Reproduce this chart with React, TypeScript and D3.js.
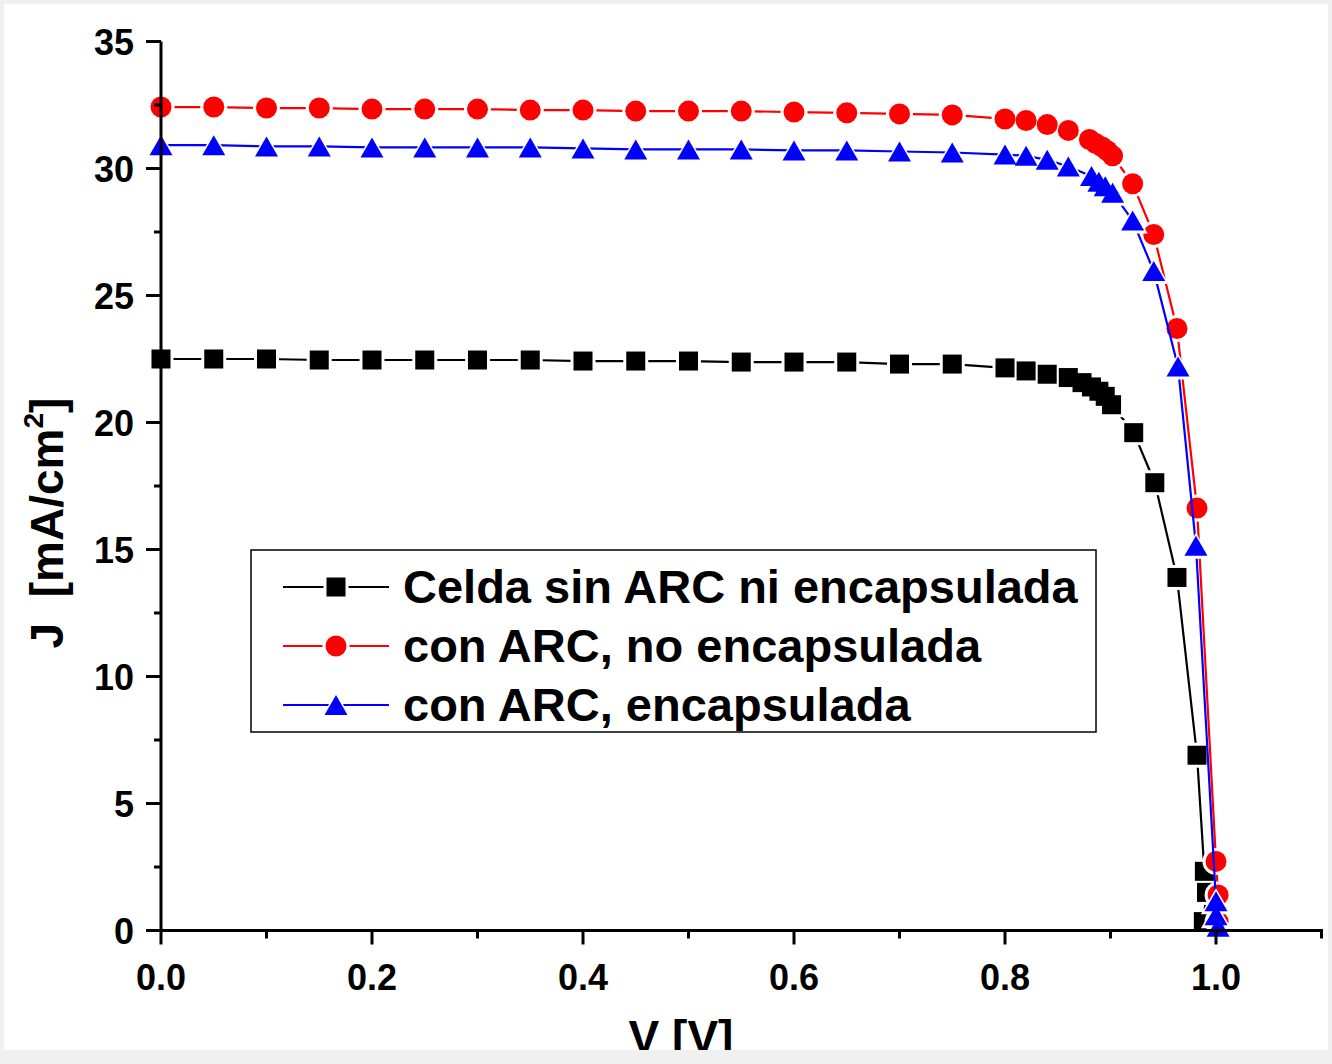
import React from "react";
import * as d3 from "d3";

const vBlack = [0, 0.05, 0.1, 0.15, 0.2, 0.25, 0.3, 0.35, 0.4, 0.45, 0.5, 0.55, 0.6, 0.65, 0.7, 0.75, 0.8, 0.82, 0.84, 0.86, 0.873, 0.882, 0.889, 0.895, 0.901, 0.922, 0.942, 0.963, 0.982, 0.989, 0.991, 0.988];
const jBlack = [22.5, 22.5, 22.5, 22.46, 22.46, 22.46, 22.46, 22.46, 22.42, 22.42, 22.42, 22.38, 22.38, 22.38, 22.3, 22.3, 22.15, 22.03, 21.9, 21.77, 21.57, 21.4, 21.23, 21.03, 20.7, 19.6, 17.63, 13.9, 6.9, 2.33, 1.5, 0.35];

const vRed = [0, 0.05, 0.1, 0.15, 0.2, 0.25, 0.3, 0.35, 0.4, 0.45, 0.5, 0.55, 0.6, 0.65, 0.7, 0.75, 0.8, 0.82, 0.84, 0.86, 0.88, 0.886, 0.892, 0.897, 0.902, 0.921, 0.941, 0.963, 0.982, 1.0, 1.002, 1.002];
const jRed = [32.42, 32.42, 32.38, 32.38, 32.34, 32.34, 32.34, 32.3, 32.3, 32.26, 32.26, 32.26, 32.22, 32.19, 32.15, 32.11, 31.95, 31.89, 31.73, 31.5, 31.14, 30.98, 30.85, 30.7, 30.5, 29.4, 27.4, 23.7, 16.63, 2.72, 1.4, 0.35];

const vBlue = [0, 0.05, 0.1, 0.15, 0.2, 0.25, 0.3, 0.35, 0.4, 0.45, 0.5, 0.55, 0.6, 0.65, 0.7, 0.75, 0.8, 0.82, 0.84, 0.86, 0.882, 0.889, 0.895, 0.902, 0.921, 0.941, 0.964, 0.981, 1.0, 1.0, 1.002];
const jBlue = [30.92, 30.92, 30.87, 30.87, 30.83, 30.83, 30.83, 30.83, 30.79, 30.75, 30.75, 30.75, 30.71, 30.71, 30.67, 30.63, 30.55, 30.5, 30.34, 30.08, 29.7, 29.48, 29.3, 29.05, 27.95, 25.96, 22.2, 15.15, 1.15, 0.6, 0.15];

const seriesNames = ["Celda sin ARC ni encapsulada", "con ARC, no encapsulada", "con ARC, encapsulada"];
const seriesColors = ["#000000", "#ff0000", "#0000ff"];
const seriesShapes = ["square", "circle", "triangle"];

const xMajor = [0, 0.2, 0.4, 0.6, 0.8, 1.0];
const xMinor = [0.1, 0.3, 0.5, 0.7, 0.9, 1.1];
const yMajor = [0, 5, 10, 15, 20, 25, 30, 35];
const yMinor = [2.5, 7.5, 12.5, 17.5, 22.5, 27.5, 32.5];

const FONT = "Arial, 'Liberation Sans', Helvetica, sans-serif";

function Marker({ shape, x, y, fill, grow = 0 }: { shape: string; x: number; y: number; fill: string; grow?: number }) {
  if (shape === "square") {
    const s = 19 + grow * 2;
    return <rect x={x - s / 2} y={y - s / 2} width={s} height={s} fill={fill} />;
  }
  if (shape === "circle") {
    return <circle cx={x} cy={y} r={10.5 + grow} fill={fill} />;
  }
  const w = 23 + grow * 2.4;
  const h = 20 + grow * 2;
  return <path d={`M${x},${y - h / 2}L${x + w / 2},${y + h / 2}L${x - w / 2},${y + h / 2}Z`} fill={fill} />;
}

export default function App() {
  const W = 1332;
  const H = 1064;
  const x = d3.scaleLinear().domain([0, 1.1]).range([161, 1321.5]);
  const y = d3.scaleLinear().domain([0, 35]).range([930.5, 41.5]);

  const series = [
    { v: vBlack, j: jBlack },
    { v: vRed, j: jRed },
    { v: vBlue, j: jBlue },
  ];
  const line = d3.line<[number, number]>().x((d) => x(d[0])).y((d) => y(d[1]));

  return (
    <svg width={W} height={H} style={{ display: "block", position: "absolute", left: 0, top: 0 }} fontFamily={FONT}>
      <rect x={0} y={0} width={W} height={H} fill="#ffffff" />
      {/* data */}
      {series.map((s, i) => {
        const pts: [number, number][] = s.v.map((v, k) => [v, s.j[k]]);
        return (
          <g key={i}>
            <path d={line(pts) || ""} fill="none" stroke={seriesColors[i]} strokeWidth={2.2} />
            {pts.map((p, k) => (
              <Marker key={"h" + k} shape={seriesShapes[i]} x={x(p[0])} y={y(p[1])} fill="#ffffff" grow={3} />
            ))}
            {pts.map((p, k) => (
              <Marker key={"m" + k} shape={seriesShapes[i]} x={x(p[0])} y={y(p[1])} fill={seriesColors[i]} />
            ))}
          </g>
        );
      })}
      {/* axes */}
      <g stroke="#000" strokeWidth={3}>
        <line x1={x(0)} x2={x(1.1) + 1.5} y1={y(0)} y2={y(0)} />
        <line x1={x(0)} x2={x(0)} y1={y(0)} y2={y(35)} />
        {xMajor.map((t) => (
          <line key={"xm" + t} x1={x(t)} x2={x(t)} y1={y(0)} y2={y(0) + 14} />
        ))}
        {xMinor.map((t) => (
          <line key={"xn" + t} x1={x(t)} x2={x(t)} y1={y(0)} y2={y(0) + 8} />
        ))}
        {yMajor.map((t) => (
          <line key={"ym" + t} x1={x(0)} x2={x(0) - 15} y1={y(t)} y2={y(t)} />
        ))}
        {yMinor.map((t) => (
          <line key={"yn" + t} x1={x(0)} x2={x(0) - 7} y1={y(t)} y2={y(t)} />
        ))}
      </g>
      <g fontWeight="bold" fontSize={36} fill="#000">
        {xMajor.map((t) => (
          <text key={"xl" + t} x={x(t)} y={990} textAnchor="middle">
            {d3.format(".1f")(t)}
          </text>
        ))}
        {yMajor.map((t) => (
          <text key={"yl" + t} x={134} y={y(t) + 13} textAnchor="end">
            {t}
          </text>
        ))}
      </g>
      {/* axis titles */}
      <text x={681} y={1053} textAnchor="middle" fontWeight="bold" fontSize={46} fill="#000">
        V [V]
      </text>
      <text transform="translate(63,523) rotate(-90)" textAnchor="middle" fontWeight="bold" fontSize={46} fill="#000" xmlSpace="preserve">
        {"J  [mA/cm"}
        <tspan fontSize={28} dy={-20}>2</tspan>
        <tspan dy={20}>]</tspan>
      </text>
      {/* legend */}
      <rect x={251} y={550} width={845} height={182} fill="#fff" stroke="#000" strokeWidth={1.5} />
      {seriesNames.map((name, i) => {
        const cy = 587 + i * 59;
        return (
          <g key={"lg" + i}>
            <line x1={283} x2={389} y1={cy} y2={cy} stroke={seriesColors[i]} strokeWidth={2.2} />
            <Marker shape={seriesShapes[i]} x={336} y={cy} fill="#ffffff" grow={3} />
            <Marker shape={seriesShapes[i]} x={336} y={cy} fill={seriesColors[i]} />
            <text x={403} y={cy + 16} fontWeight="bold" fontSize={47} fill="#000">
              {name}
            </text>
          </g>
        );
      })}
      {/* outer frame */}
      <g fill="#f0f0f0">
        <rect x={0} y={0} width={W} height={4} />
        <rect x={0} y={0} width={4} height={H} />
        <rect x={W - 4} y={0} width={4} height={H} />
        <rect x={0} y={1050} width={W} height={H - 1050} />
      </g>
    </svg>
  );
}
